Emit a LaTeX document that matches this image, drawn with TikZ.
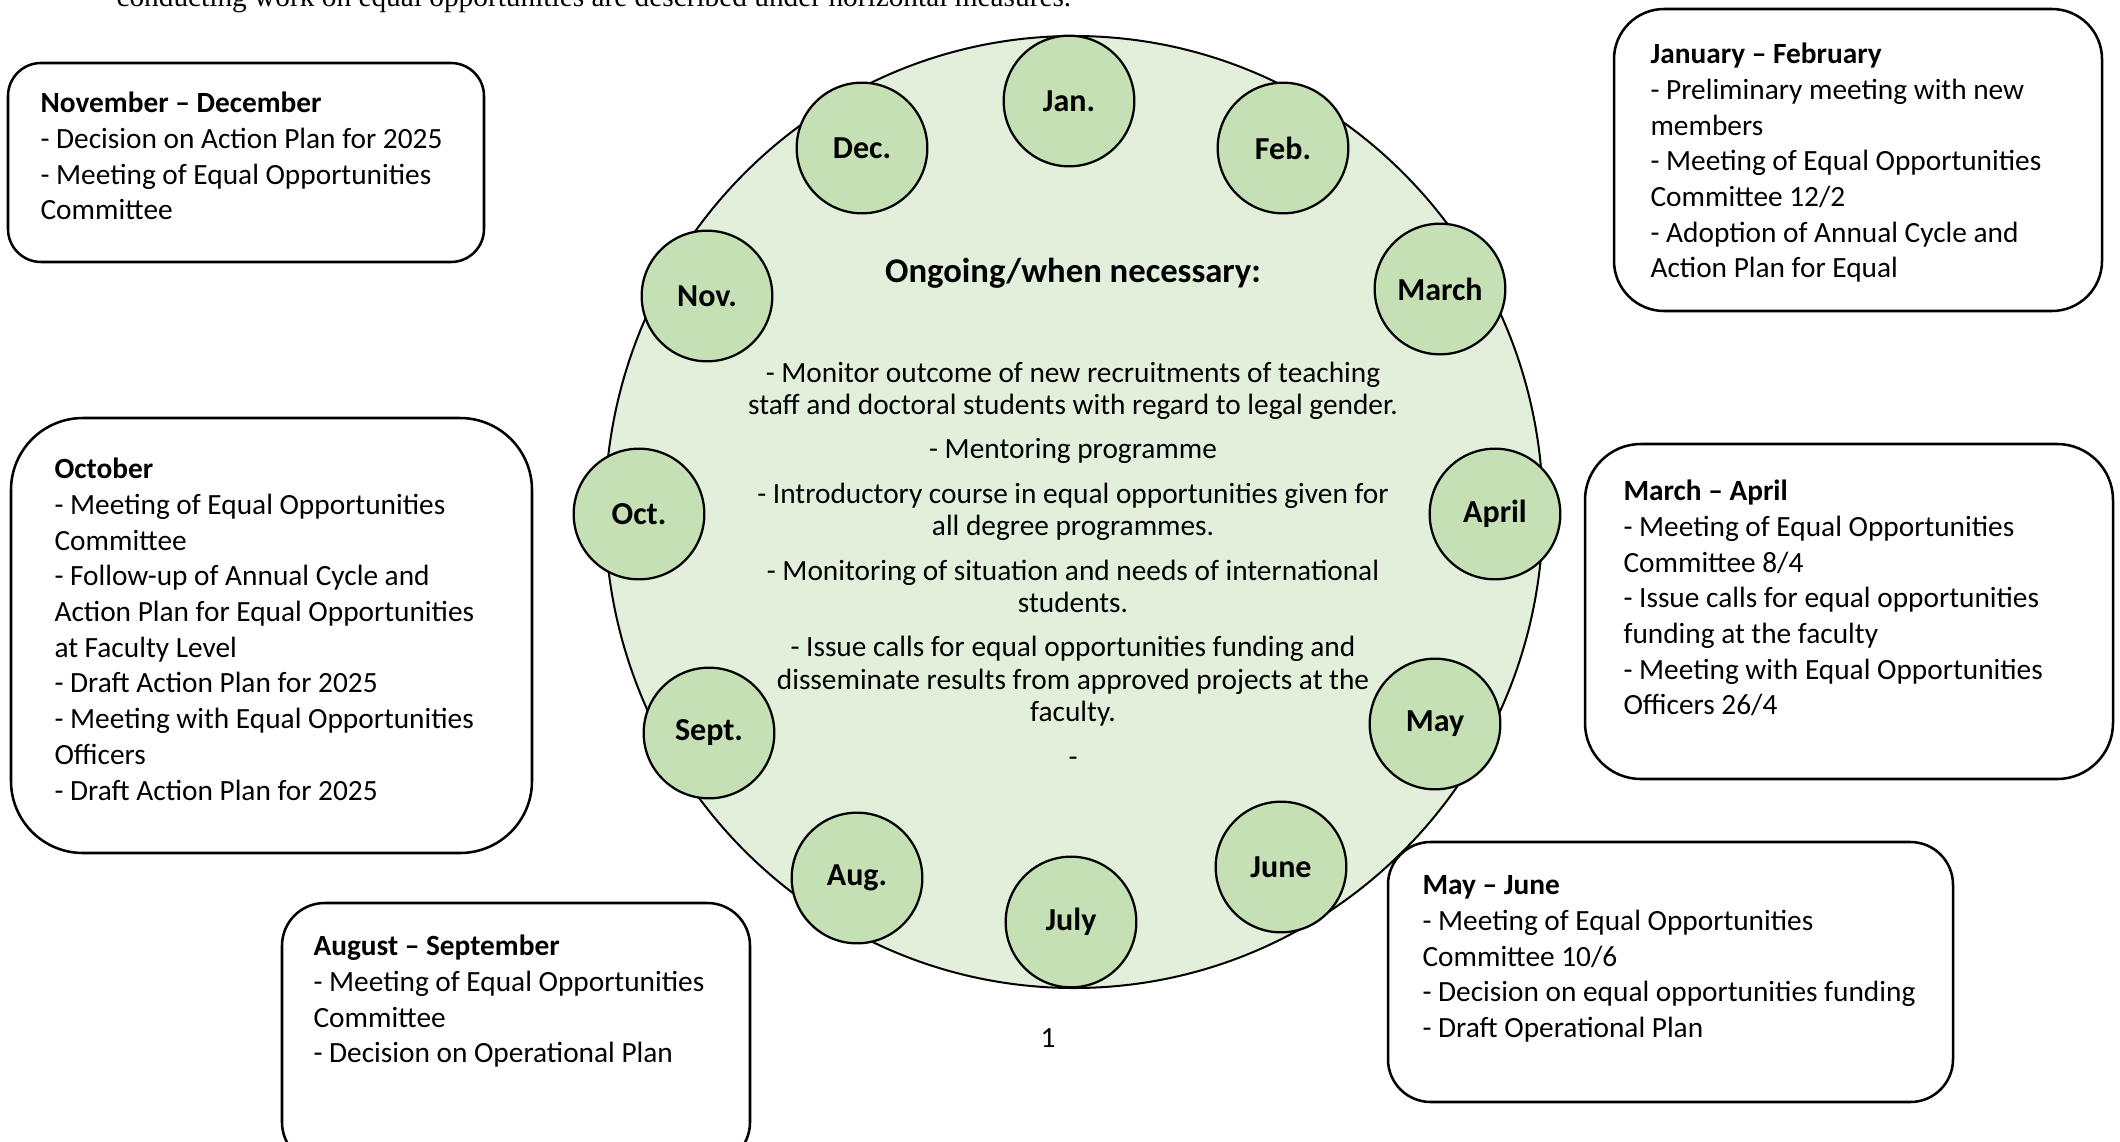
\documentclass[tikz,border=0pt]{standalone}
\usepackage{fontspec}
\setmainfont{Carlito}
\newfontfamily\serifbody{Liberation Serif}

\definecolor{ringfill}{HTML}{E2EFDA}
\definecolor{monthfill}{HTML}{C5E0B4}

\tikzset{
	cyclebox/.style={draw, line width=0.95pt, fill=white},
	monthdot/.style={circle, draw, line width=0.85pt, fill=monthfill, minimum size=49pt, inner sep=0pt, font=\fontsize{12}{14}\selectfont\bfseries},
	boxtext/.style={anchor=north west, align=left, inner sep=0pt, font=\fontsize{11}{13.4}\selectfont},
	ongoing/.style={anchor=north, align=center, inner sep=0pt, font=\fontsize{11}{12.1}\selectfont},
}

\begin{document}
\begin{tikzpicture}[x=0.375pt, y=-0.375pt, line join=round, line cap=round]
	\useasboundingbox (0,0) rectangle (2120,1142);
	\clip (0,0) rectangle (2120,1142);
	
	% last line of the page text above
	\node[anchor=base west, inner sep=0pt, font=\serifbody\fontsize{11}{13}\selectfont] (pagetext) at (116,7) {conducting work on equal opportunities are described under horizontal measures.};
	
	% the year
	\draw[fill=ringfill, line width=0.75pt] (1074,512) ellipse [x radius=469, y radius=476];
	
	\node[anchor=base, inner sep=0pt, font=\fontsize{13}{15}\selectfont\bfseries] (ongoinghead) at (1073,282) {Ongoing/when necessary:};
	\node[ongoing] (ongoinglist) at (1073,358.9) {\strut- Monitor outcome of new recruitments of teaching\\
		staff and doctoral students with regard to legal gender.\\[4.6pt]
		- Mentoring programme\\[4.6pt]
		- Introductory course in equal opportunities given for\\
		all degree programmes.\\[4.6pt]
		- Monitoring of situation and needs of international\\
		students.\\[4.6pt]
		- Issue calls for equal opportunities funding and\\
		disseminate results from approved projects at the\\
		faculty.\\[4.6pt]
		-};
	
	\node[monthdot] (jan) at (1069,101) {Jan.};
	\node[monthdot] (feb) at (1283,148) {Feb.};
	\node[monthdot] (mar) at (1440,289) {March};
	\node[monthdot] (apr) at (1495,514) {April};
	\node[monthdot] (may) at (1435,724) {May};
	\node[monthdot] (jun) at (1281,867) {June};
	\node[monthdot] (jul) at (1071,922) {July};
	\node[monthdot] (aug) at (857,878) {Aug.};
	\node[monthdot] (sep) at (709,733) {Sept.};
	\node[monthdot] (oct) at (639,514) {Oct.};
	\node[monthdot] (nov) at (707,296) {Nov.};
	\node[monthdot] (dec) at (862,148) {Dec.};
	
	% period boxes
	\draw[cyclebox, rounded corners=12.4pt] (8,63) rectangle (484,262);
	\node[boxtext] (novdec) at (40,87) {\strut\textbf{November – December}\\
		- Decision on Action Plan for 2025\\
		- Meeting of Equal Opportunities\\
		Committee};
	
	\draw[cyclebox, rounded corners=18.8pt] (1614,9) rectangle (2102,311);
	\node[boxtext] (janfeb) at (1650,38) {\strut\textbf{January – February}\\
		- Preliminary meeting with new\\
		members\\
		- Meeting of Equal Opportunities\\
		Committee 12/2\\
		- Adoption of Annual Cycle and\\
		Action Plan for Equal};
	
	\draw[cyclebox, rounded corners=27pt] (11,418) rectangle (532,853);
	\node[boxtext] (october) at (54,453) {\strut\textbf{October}\\
		- Meeting of Equal Opportunities\\
		Committee\\
		- Follow-up of Annual Cycle and\\
		Action Plan for Equal Opportunities\\
		at Faculty Level\\
		- Draft Action Plan for 2025\\
		- Meeting with Equal Opportunities\\
		Officers\\
		- Draft Action Plan for 2025};
	
	\draw[cyclebox, rounded corners=21pt] (1585,444) rectangle (2113,779);
	\node[boxtext] (marapr) at (1623,475) {\strut\textbf{March – April}\\
		- Meeting of Equal Opportunities\\
		Committee 8/4\\
		- Issue calls for equal opportunities\\
		funding at the faculty\\
		- Meeting with Equal Opportunities\\
		Officers 26/4};
	
	\draw[cyclebox, rounded corners=16pt] (282,903) rectangle (750,1165);
	\node[boxtext] (augsep) at (313,930) {\strut\textbf{August – September}\\
		- Meeting of Equal Opportunities\\
		Committee\\
		- Decision on Operational Plan};
	
	\draw[cyclebox, rounded corners=16pt] (1388,842) rectangle (1953,1102);
	\node[boxtext] (mayjun) at (1422,869) {\strut\textbf{May – June}\\
		- Meeting of Equal Opportunities\\
		Committee 10/6\\
		- Decision on equal opportunities funding\\
		- Draft Operational Plan};
	
	\node[anchor=base, inner sep=0pt, font=\fontsize{11}{13}\selectfont] (pagenum) at (1048,1047) {1};
\end{tikzpicture}
\end{document}
